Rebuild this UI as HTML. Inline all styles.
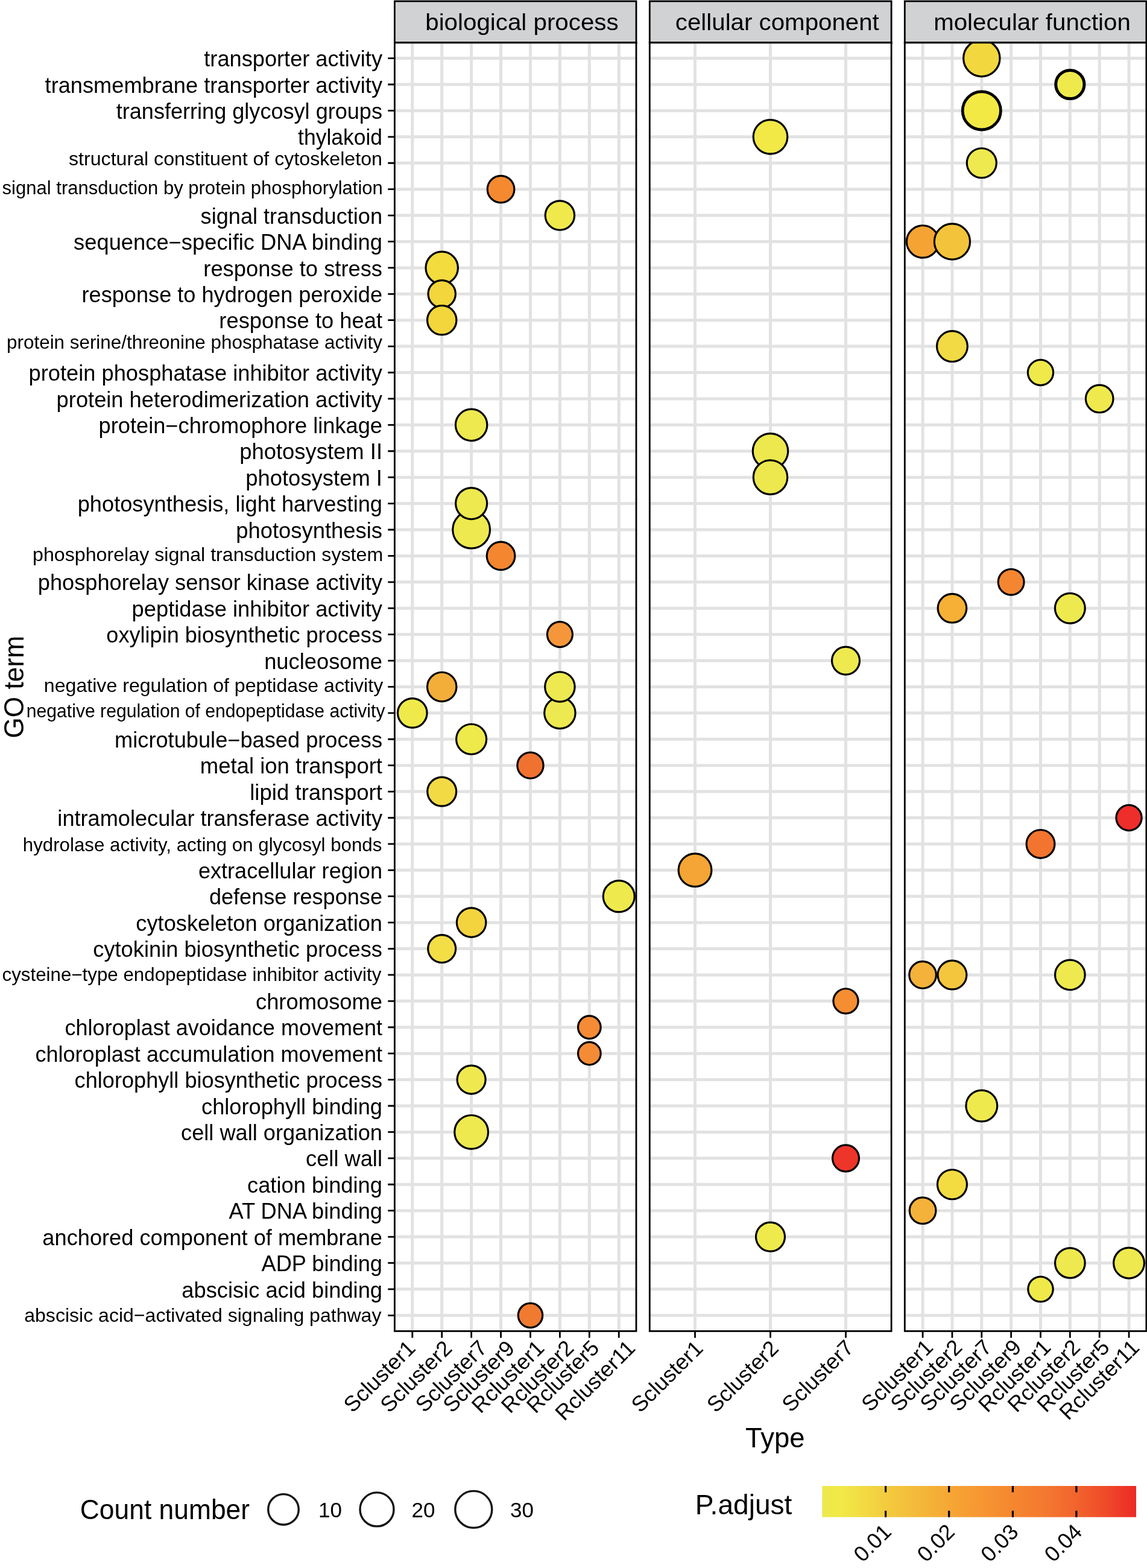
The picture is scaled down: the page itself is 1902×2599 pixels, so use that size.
<!DOCTYPE html><html><head><meta charset="utf-8"><title>GO enrichment dot plot</title><style>
html,body{margin:0;padding:0;background:#fff;}body{width:1902px;height:2599px;overflow:hidden;}svg{display:block;}text{font-family:"Liberation Sans", Arial, Helvetica, sans-serif;fill:#000;}
</style></head><body>
<svg width="1902" height="2599" viewBox="0 0 1902 2599">
<rect width="1902" height="2599" fill="#fff"/>
<defs>
<clipPath id="cp0"><rect x="654.4" y="70.8" width="400.6" height="2135.6"/></clipPath>
<clipPath id="cp1"><rect x="1077.3" y="70.8" width="400.8" height="2135.6"/></clipPath>
<clipPath id="cp2"><rect x="1500.3" y="70.8" width="400.6" height="2135.6"/></clipPath>
<linearGradient id="grad" x1="0" x2="1" y1="0" y2="0">
<stop offset="0.000" stop-color="#ede84e"/>
<stop offset="0.060" stop-color="#f1ea47"/>
<stop offset="0.200" stop-color="#f3cc3e"/>
<stop offset="0.300" stop-color="#f4ba39"/>
<stop offset="0.400" stop-color="#f5a834"/>
<stop offset="0.500" stop-color="#f79732"/>
<stop offset="0.600" stop-color="#f5882f"/>
<stop offset="0.700" stop-color="#f47a30"/>
<stop offset="0.800" stop-color="#f2662d"/>
<stop offset="0.900" stop-color="#ef4b29"/>
<stop offset="1.000" stop-color="#ec2a26"/>
</linearGradient></defs>
<rect x="654.4" y="2.0" width="400.6" height="68.8" fill="#d1d2d4" stroke="#000" stroke-width="2.8"/>
<rect x="1077.3" y="2.0" width="400.8" height="68.8" fill="#d1d2d4" stroke="#000" stroke-width="2.8"/>
<rect x="1500.3" y="2.0" width="400.6" height="68.8" fill="#d1d2d4" stroke="#000" stroke-width="2.8"/>
<path d="M653.0 70.95H1056.4" stroke="#000" stroke-width="3.7"/>
<path d="M1075.9 70.95H1479.5" stroke="#000" stroke-width="3.7"/>
<path d="M1498.9 70.95H1902.3" stroke="#000" stroke-width="3.7"/>
<rect x="1501.2" y="94.80" width="1.9" height="3.6" fill="#111"/>
<rect x="1501.2" y="138.21" width="1.9" height="3.6" fill="#111"/>
<rect x="1501.2" y="181.62" width="1.9" height="3.6" fill="#111"/>
<text x="705.25" y="50.0" font-size="39.6" textLength="320.37" lengthAdjust="spacingAndGlyphs">biological process</text>
<text x="1119.82" y="50.0" font-size="39.6" textLength="337.99" lengthAdjust="spacingAndGlyphs">cellular component</text>
<text x="1548.15" y="50.0" font-size="39.6" textLength="326.65" lengthAdjust="spacingAndGlyphs">molecular function</text>
<g clip-path="url(#cp0)">
<rect x="654.4" y="70.8" width="400.6" height="2135.6" fill="#fff"/>
<path d="M654.4 96.60H1055.0M654.4 140.01H1055.0M654.4 183.42H1055.0M654.4 226.83H1055.0M654.4 270.24H1055.0M654.4 313.65H1055.0M654.4 357.06H1055.0M654.4 400.47H1055.0M654.4 443.88H1055.0M654.4 487.29H1055.0M654.4 530.70H1055.0M654.4 574.11H1055.0M654.4 617.52H1055.0M654.4 660.93H1055.0M654.4 704.34H1055.0M654.4 747.75H1055.0M654.4 791.16H1055.0M654.4 834.57H1055.0M654.4 877.98H1055.0M654.4 921.39H1055.0M654.4 964.80H1055.0M654.4 1008.21H1055.0M654.4 1051.62H1055.0M654.4 1095.03H1055.0M654.4 1138.44H1055.0M654.4 1181.85H1055.0M654.4 1225.26H1055.0M654.4 1268.67H1055.0M654.4 1312.08H1055.0M654.4 1355.49H1055.0M654.4 1398.90H1055.0M654.4 1442.31H1055.0M654.4 1485.72H1055.0M654.4 1529.13H1055.0M654.4 1572.54H1055.0M654.4 1615.95H1055.0M654.4 1659.36H1055.0M654.4 1702.77H1055.0M654.4 1746.18H1055.0M654.4 1789.59H1055.0M654.4 1833.00H1055.0M654.4 1876.41H1055.0M654.4 1919.82H1055.0M654.4 1963.23H1055.0M654.4 2006.64H1055.0M654.4 2050.05H1055.0M654.4 2093.46H1055.0M654.4 2136.87H1055.0M654.4 2180.28H1055.0M683.80 70.8V2206.4M732.72 70.8V2206.4M781.64 70.8V2206.4M830.56 70.8V2206.4M879.48 70.8V2206.4M928.40 70.8V2206.4M977.32 70.8V2206.4M1026.24 70.8V2206.4" stroke="#e2e2e2" stroke-width="5.0" fill="none"/>
<circle cx="879.48" cy="2180.28" r="20.20" fill="#f07a30" stroke="#000" stroke-width="3.2"/>
<circle cx="781.64" cy="1876.41" r="27.90" fill="#eee94f" stroke="#000" stroke-width="3.2"/>
<circle cx="781.64" cy="1789.59" r="23.50" fill="#efe94f" stroke="#000" stroke-width="3.2"/>
<circle cx="977.32" cy="1746.18" r="18.80" fill="#f58b34" stroke="#000" stroke-width="3.2"/>
<circle cx="977.32" cy="1702.77" r="18.80" fill="#f58b34" stroke="#000" stroke-width="3.2"/>
<circle cx="732.72" cy="1572.54" r="23.00" fill="#f3de45" stroke="#000" stroke-width="3.2"/>
<circle cx="781.64" cy="1529.13" r="24.20" fill="#f3d43f" stroke="#000" stroke-width="3.2"/>
<circle cx="1026.24" cy="1485.72" r="26.00" fill="#eeea4d" stroke="#000" stroke-width="3.2"/>
<circle cx="732.72" cy="1312.08" r="24.00" fill="#f2da44" stroke="#000" stroke-width="3.2"/>
<circle cx="879.48" cy="1268.67" r="21.60" fill="#f07230" stroke="#000" stroke-width="3.2"/>
<circle cx="781.64" cy="1225.26" r="25.00" fill="#eeea4c" stroke="#000" stroke-width="3.2"/>
<circle cx="683.80" cy="1181.85" r="24.30" fill="#efea4a" stroke="#000" stroke-width="3.2"/>
<circle cx="928.40" cy="1181.85" r="25.70" fill="#ede950" stroke="#000" stroke-width="3.2"/>
<circle cx="732.72" cy="1138.44" r="24.20" fill="#f3ae3a" stroke="#000" stroke-width="3.2"/>
<circle cx="928.40" cy="1138.44" r="24.70" fill="#ede950" stroke="#000" stroke-width="3.2"/>
<circle cx="928.40" cy="1051.62" r="21.00" fill="#f6963a" stroke="#000" stroke-width="3.2"/>
<circle cx="830.56" cy="921.39" r="23.30" fill="#f58630" stroke="#000" stroke-width="3.2"/>
<circle cx="781.64" cy="877.98" r="30.90" fill="#ede94f" stroke="#000" stroke-width="3.2"/>
<circle cx="781.64" cy="834.57" r="26.00" fill="#ede94f" stroke="#000" stroke-width="3.2"/>
<circle cx="781.64" cy="704.34" r="26.20" fill="#ede94f" stroke="#000" stroke-width="3.2"/>
<circle cx="732.72" cy="443.88" r="26.70" fill="#f2dc3e" stroke="#000" stroke-width="3.2"/>
<circle cx="732.72" cy="487.29" r="22.70" fill="#f2d63c" stroke="#000" stroke-width="3.2"/>
<circle cx="732.72" cy="530.70" r="24.20" fill="#f2d63c" stroke="#000" stroke-width="3.2"/>
<circle cx="928.40" cy="357.06" r="24.20" fill="#efe94c" stroke="#000" stroke-width="3.2"/>
<circle cx="830.56" cy="313.65" r="22.30" fill="#f5892f" stroke="#000" stroke-width="3.2"/>
</g>
<rect x="654.4" y="70.8" width="400.6" height="2135.6" fill="none" stroke="#000" stroke-width="2.8"/>
<path d="M683.80 2206.4V2217.5M732.72 2206.4V2217.5M781.64 2206.4V2217.5M830.56 2206.4V2217.5M879.48 2206.4V2217.5M928.40 2206.4V2217.5M977.32 2206.4V2217.5M1026.24 2206.4V2217.5" stroke="#000" stroke-width="2.8"/>
<g clip-path="url(#cp1)">
<rect x="1077.3" y="70.8" width="400.8" height="2135.6" fill="#fff"/>
<path d="M1077.3 96.60H1478.1M1077.3 140.01H1478.1M1077.3 183.42H1478.1M1077.3 226.83H1478.1M1077.3 270.24H1478.1M1077.3 313.65H1478.1M1077.3 357.06H1478.1M1077.3 400.47H1478.1M1077.3 443.88H1478.1M1077.3 487.29H1478.1M1077.3 530.70H1478.1M1077.3 574.11H1478.1M1077.3 617.52H1478.1M1077.3 660.93H1478.1M1077.3 704.34H1478.1M1077.3 747.75H1478.1M1077.3 791.16H1478.1M1077.3 834.57H1478.1M1077.3 877.98H1478.1M1077.3 921.39H1478.1M1077.3 964.80H1478.1M1077.3 1008.21H1478.1M1077.3 1051.62H1478.1M1077.3 1095.03H1478.1M1077.3 1138.44H1478.1M1077.3 1181.85H1478.1M1077.3 1225.26H1478.1M1077.3 1268.67H1478.1M1077.3 1312.08H1478.1M1077.3 1355.49H1478.1M1077.3 1398.90H1478.1M1077.3 1442.31H1478.1M1077.3 1485.72H1478.1M1077.3 1529.13H1478.1M1077.3 1572.54H1478.1M1077.3 1615.95H1478.1M1077.3 1659.36H1478.1M1077.3 1702.77H1478.1M1077.3 1746.18H1478.1M1077.3 1789.59H1478.1M1077.3 1833.00H1478.1M1077.3 1876.41H1478.1M1077.3 1919.82H1478.1M1077.3 1963.23H1478.1M1077.3 2006.64H1478.1M1077.3 2050.05H1478.1M1077.3 2093.46H1478.1M1077.3 2136.87H1478.1M1077.3 2180.28H1478.1M1152.50 70.8V2206.4M1277.50 70.8V2206.4M1402.50 70.8V2206.4" stroke="#e2e2e2" stroke-width="5.0" fill="none"/>
<circle cx="1277.50" cy="2050.05" r="24.00" fill="#eeea4c" stroke="#000" stroke-width="3.2"/>
<circle cx="1402.50" cy="1919.82" r="22.00" fill="#ee3529" stroke="#000" stroke-width="3.2"/>
<circle cx="1402.50" cy="1659.36" r="20.60" fill="#f58d33" stroke="#000" stroke-width="3.2"/>
<circle cx="1152.50" cy="1442.31" r="27.40" fill="#f5a535" stroke="#000" stroke-width="3.2"/>
<circle cx="1402.50" cy="1095.03" r="23.00" fill="#eee94f" stroke="#000" stroke-width="3.2"/>
<circle cx="1277.50" cy="747.75" r="29.20" fill="#ede84e" stroke="#000" stroke-width="3.2"/>
<circle cx="1277.50" cy="791.16" r="28.20" fill="#ede84e" stroke="#000" stroke-width="3.2"/>
<circle cx="1277.50" cy="226.83" r="28.30" fill="#f2e947" stroke="#000" stroke-width="3.2"/>
</g>
<rect x="1077.3" y="70.8" width="400.8" height="2135.6" fill="none" stroke="#000" stroke-width="2.8"/>
<path d="M1152.50 2206.4V2217.5M1277.50 2206.4V2217.5M1402.50 2206.4V2217.5" stroke="#000" stroke-width="2.8"/>
<g clip-path="url(#cp2)">
<rect x="1500.3" y="70.8" width="400.6" height="2135.6" fill="#fff"/>
<path d="M1500.3 96.60H1900.9M1500.3 140.01H1900.9M1500.3 183.42H1900.9M1500.3 226.83H1900.9M1500.3 270.24H1900.9M1500.3 313.65H1900.9M1500.3 357.06H1900.9M1500.3 400.47H1900.9M1500.3 443.88H1900.9M1500.3 487.29H1900.9M1500.3 530.70H1900.9M1500.3 574.11H1900.9M1500.3 617.52H1900.9M1500.3 660.93H1900.9M1500.3 704.34H1900.9M1500.3 747.75H1900.9M1500.3 791.16H1900.9M1500.3 834.57H1900.9M1500.3 877.98H1900.9M1500.3 921.39H1900.9M1500.3 964.80H1900.9M1500.3 1008.21H1900.9M1500.3 1051.62H1900.9M1500.3 1095.03H1900.9M1500.3 1138.44H1900.9M1500.3 1181.85H1900.9M1500.3 1225.26H1900.9M1500.3 1268.67H1900.9M1500.3 1312.08H1900.9M1500.3 1355.49H1900.9M1500.3 1398.90H1900.9M1500.3 1442.31H1900.9M1500.3 1485.72H1900.9M1500.3 1529.13H1900.9M1500.3 1572.54H1900.9M1500.3 1615.95H1900.9M1500.3 1659.36H1900.9M1500.3 1702.77H1900.9M1500.3 1746.18H1900.9M1500.3 1789.59H1900.9M1500.3 1833.00H1900.9M1500.3 1876.41H1900.9M1500.3 1919.82H1900.9M1500.3 1963.23H1900.9M1500.3 2006.64H1900.9M1500.3 2050.05H1900.9M1500.3 2093.46H1900.9M1500.3 2136.87H1900.9M1500.3 2180.28H1900.9M1530.10 70.8V2206.4M1578.95 70.8V2206.4M1627.80 70.8V2206.4M1676.65 70.8V2206.4M1725.50 70.8V2206.4M1774.35 70.8V2206.4M1823.20 70.8V2206.4M1872.05 70.8V2206.4" stroke="#e2e2e2" stroke-width="5.0" fill="none"/>
<circle cx="1725.50" cy="2136.87" r="20.70" fill="#efea4a" stroke="#000" stroke-width="3.2"/>
<circle cx="1774.35" cy="2093.46" r="24.80" fill="#eee94e" stroke="#000" stroke-width="3.2"/>
<circle cx="1872.05" cy="2093.46" r="25.40" fill="#eee94e" stroke="#000" stroke-width="3.2"/>
<circle cx="1530.10" cy="2006.64" r="21.80" fill="#f4b23a" stroke="#000" stroke-width="3.2"/>
<circle cx="1578.95" cy="1963.23" r="24.50" fill="#f3db42" stroke="#000" stroke-width="3.2"/>
<circle cx="1627.80" cy="1833.00" r="25.90" fill="#eeea4e" stroke="#000" stroke-width="3.2"/>
<circle cx="1530.10" cy="1615.95" r="22.30" fill="#f4b23a" stroke="#000" stroke-width="3.2"/>
<circle cx="1578.95" cy="1615.95" r="23.90" fill="#f4c63d" stroke="#000" stroke-width="3.2"/>
<circle cx="1774.35" cy="1615.95" r="24.80" fill="#eee94e" stroke="#000" stroke-width="3.2"/>
<circle cx="1725.50" cy="1398.90" r="23.40" fill="#f2742f" stroke="#000" stroke-width="3.2"/>
<circle cx="1872.05" cy="1355.49" r="21.10" fill="#ee2e2a" stroke="#000" stroke-width="3.2"/>
<circle cx="1578.95" cy="1008.21" r="23.80" fill="#f5b035" stroke="#000" stroke-width="3.2"/>
<circle cx="1774.35" cy="1008.21" r="24.90" fill="#eee94e" stroke="#000" stroke-width="3.2"/>
<circle cx="1676.65" cy="964.80" r="21.40" fill="#f58631" stroke="#000" stroke-width="3.2"/>
<circle cx="1823.20" cy="660.93" r="22.80" fill="#efe94e" stroke="#000" stroke-width="3.2"/>
<circle cx="1725.50" cy="617.52" r="21.10" fill="#efea4a" stroke="#000" stroke-width="3.2"/>
<circle cx="1578.95" cy="574.11" r="25.40" fill="#f2da44" stroke="#000" stroke-width="3.2"/>
<circle cx="1530.10" cy="400.47" r="26.70" fill="#f5a433" stroke="#000" stroke-width="3.2"/>
<circle cx="1578.95" cy="400.47" r="29.60" fill="#f3c33b" stroke="#000" stroke-width="3.2"/>
<circle cx="1627.80" cy="270.24" r="24.50" fill="#eee94e" stroke="#000" stroke-width="3.2"/>
<circle cx="1627.80" cy="183.42" r="31.60" fill="#f3e944" stroke="#000" stroke-width="4.8"/>
<circle cx="1774.35" cy="140.01" r="23.60" fill="#efea4c" stroke="#000" stroke-width="5.0"/>
<circle cx="1627.80" cy="96.60" r="30.20" fill="#f2d83e" stroke="#000" stroke-width="3.2"/>
</g>
<rect x="1500.3" y="70.8" width="400.6" height="2135.6" fill="none" stroke="#000" stroke-width="2.8"/>
<path d="M1530.10 2206.4V2217.5M1578.95 2206.4V2217.5M1627.80 2206.4V2217.5M1676.65 2206.4V2217.5M1725.50 2206.4V2217.5M1774.35 2206.4V2217.5M1823.20 2206.4V2217.5M1872.05 2206.4V2217.5" stroke="#000" stroke-width="2.8"/>
<path d="M643.3 96.60H654.4M643.3 140.01H654.4M643.3 183.42H654.4M643.3 226.83H654.4M643.3 270.24H654.4M643.3 313.65H654.4M643.3 357.06H654.4M643.3 400.47H654.4M643.3 443.88H654.4M643.3 487.29H654.4M643.3 530.70H654.4M643.3 574.11H654.4M643.3 617.52H654.4M643.3 660.93H654.4M643.3 704.34H654.4M643.3 747.75H654.4M643.3 791.16H654.4M643.3 834.57H654.4M643.3 877.98H654.4M643.3 921.39H654.4M643.3 964.80H654.4M643.3 1008.21H654.4M643.3 1051.62H654.4M643.3 1095.03H654.4M643.3 1138.44H654.4M643.3 1181.85H654.4M643.3 1225.26H654.4M643.3 1268.67H654.4M643.3 1312.08H654.4M643.3 1355.49H654.4M643.3 1398.90H654.4M643.3 1442.31H654.4M643.3 1485.72H654.4M643.3 1529.13H654.4M643.3 1572.54H654.4M643.3 1615.95H654.4M643.3 1659.36H654.4M643.3 1702.77H654.4M643.3 1746.18H654.4M643.3 1789.59H654.4M643.3 1833.00H654.4M643.3 1876.41H654.4M643.3 1919.82H654.4M643.3 1963.23H654.4M643.3 2006.64H654.4M643.3 2050.05H654.4M643.3 2093.46H654.4M643.3 2136.87H654.4M643.3 2180.28H654.4" stroke="#000" stroke-width="2.8"/>
<text x="634.0" y="110.2" font-size="36" text-anchor="end" textLength="295.70" lengthAdjust="spacingAndGlyphs">transporter activity</text>
<text x="634.0" y="153.6" font-size="36" text-anchor="end" textLength="559.40" lengthAdjust="spacingAndGlyphs">transmembrane transporter activity</text>
<text x="634.0" y="197.0" font-size="36" text-anchor="end" textLength="441.30" lengthAdjust="spacingAndGlyphs">transferring glycosyl groups</text>
<text x="634.0" y="240.4" font-size="36" text-anchor="end" textLength="139.89" lengthAdjust="spacingAndGlyphs">thylakoid</text>
<text x="113.98" y="273.7" font-size="31.5" textLength="519.96" lengthAdjust="spacingAndGlyphs">structural constituent of cytoskeleton</text>
<text x="3.60" y="321.8" font-size="31.0" textLength="631.22" lengthAdjust="spacingAndGlyphs">signal transduction by protein phosphorylation</text>
<text x="634.0" y="370.7" font-size="36" text-anchor="end" textLength="301.40" lengthAdjust="spacingAndGlyphs">signal transduction</text>
<text x="634.0" y="414.1" font-size="36" text-anchor="end" textLength="511.91" lengthAdjust="spacingAndGlyphs">sequence−specific DNA binding</text>
<text x="634.0" y="457.5" font-size="36" text-anchor="end" textLength="296.67" lengthAdjust="spacingAndGlyphs">response to stress</text>
<text x="634.0" y="500.9" font-size="36" text-anchor="end" textLength="498.46" lengthAdjust="spacingAndGlyphs">response to hydrogen peroxide</text>
<text x="634.0" y="544.3" font-size="36" text-anchor="end" textLength="270.67" lengthAdjust="spacingAndGlyphs">response to heat</text>
<text x="11.11" y="577.7" font-size="31.4" textLength="622.79" lengthAdjust="spacingAndGlyphs">protein serine/threonine phosphatase activity</text>
<text x="634.0" y="631.1" font-size="36" text-anchor="end" textLength="586.37" lengthAdjust="spacingAndGlyphs">protein phosphatase inhibitor activity</text>
<text x="634.0" y="674.5" font-size="36" text-anchor="end" textLength="540.37" lengthAdjust="spacingAndGlyphs">protein heterodimerization activity</text>
<text x="634.0" y="717.9" font-size="36" text-anchor="end" textLength="470.47" lengthAdjust="spacingAndGlyphs">protein−chromophore linkage</text>
<text x="634.0" y="761.4" font-size="36" text-anchor="end" textLength="236.78" lengthAdjust="spacingAndGlyphs">photosystem II</text>
<text x="634.0" y="804.8" font-size="36" text-anchor="end" textLength="226.78" lengthAdjust="spacingAndGlyphs">photosystem I</text>
<text x="634.0" y="848.2" font-size="36" text-anchor="end" textLength="505.26" lengthAdjust="spacingAndGlyphs">photosynthesis, light harvesting</text>
<text x="634.0" y="891.6" font-size="36" text-anchor="end" textLength="242.77" lengthAdjust="spacingAndGlyphs">photosynthesis</text>
<text x="54.07" y="929.8" font-size="31.8" textLength="581.20" lengthAdjust="spacingAndGlyphs">phosphorelay signal transduction system</text>
<text x="634.0" y="978.4" font-size="36" text-anchor="end" textLength="571.16" lengthAdjust="spacingAndGlyphs">phosphorelay sensor kinase activity</text>
<text x="634.0" y="1021.8" font-size="36" text-anchor="end" textLength="415.37" lengthAdjust="spacingAndGlyphs">peptidase inhibitor activity</text>
<text x="634.0" y="1065.2" font-size="36" text-anchor="end" textLength="457.70" lengthAdjust="spacingAndGlyphs">oxylipin biosynthetic process</text>
<text x="634.0" y="1108.6" font-size="36" text-anchor="end" textLength="195.82" lengthAdjust="spacingAndGlyphs">nucleosome</text>
<text x="72.88" y="1146.6" font-size="31.8" textLength="562.32" lengthAdjust="spacingAndGlyphs">negative regulation of peptidase activity</text>
<text x="43.82" y="1189.0" font-size="30.6" textLength="594.68" lengthAdjust="spacingAndGlyphs">negative regulation of endopeptidase activity</text>
<text x="634.0" y="1238.9" font-size="36" text-anchor="end" textLength="443.91" lengthAdjust="spacingAndGlyphs">microtubule−based process</text>
<text x="634.0" y="1282.3" font-size="36" text-anchor="end" textLength="302.13" lengthAdjust="spacingAndGlyphs">metal ion transport</text>
<text x="634.0" y="1325.7" font-size="36" text-anchor="end" textLength="219.84" lengthAdjust="spacingAndGlyphs">lipid transport</text>
<text x="634.0" y="1369.1" font-size="36" text-anchor="end" textLength="538.61" lengthAdjust="spacingAndGlyphs">intramolecular transferase activity</text>
<text x="37.77" y="1411.2" font-size="31.5" textLength="595.61" lengthAdjust="spacingAndGlyphs">hydrolase activity, acting on glycosyl bonds</text>
<text x="634.0" y="1455.9" font-size="36" text-anchor="end" textLength="305.10" lengthAdjust="spacingAndGlyphs">extracellular region</text>
<text x="634.0" y="1499.3" font-size="36" text-anchor="end" textLength="287.10" lengthAdjust="spacingAndGlyphs">defense response</text>
<text x="634.0" y="1542.7" font-size="36" text-anchor="end" textLength="408.61" lengthAdjust="spacingAndGlyphs">cytoskeleton organization</text>
<text x="634.0" y="1586.1" font-size="36" text-anchor="end" textLength="479.71" lengthAdjust="spacingAndGlyphs">cytokinin biosynthetic process</text>
<text x="3.54" y="1625.7" font-size="31.0" textLength="628.86" lengthAdjust="spacingAndGlyphs">cysteine−type endopeptidase inhibitor activity</text>
<text x="634.0" y="1673.0" font-size="36" text-anchor="end" textLength="210.01" lengthAdjust="spacingAndGlyphs">chromosome</text>
<text x="634.0" y="1716.4" font-size="36" text-anchor="end" textLength="526.40" lengthAdjust="spacingAndGlyphs">chloroplast avoidance movement</text>
<text x="634.0" y="1759.8" font-size="36" text-anchor="end" textLength="575.60" lengthAdjust="spacingAndGlyphs">chloroplast accumulation movement</text>
<text x="634.0" y="1803.2" font-size="36" text-anchor="end" textLength="510.41" lengthAdjust="spacingAndGlyphs">chlorophyll biosynthetic process</text>
<text x="634.0" y="1846.6" font-size="36" text-anchor="end" textLength="299.91" lengthAdjust="spacingAndGlyphs">chlorophyll binding</text>
<text x="634.0" y="1890.0" font-size="36" text-anchor="end" textLength="333.91" lengthAdjust="spacingAndGlyphs">cell wall organization</text>
<text x="634.0" y="1933.4" font-size="36" text-anchor="end" textLength="126.91" lengthAdjust="spacingAndGlyphs">cell wall</text>
<text x="634.0" y="1976.8" font-size="36" text-anchor="end" textLength="224.01" lengthAdjust="spacingAndGlyphs">cation binding</text>
<text x="634.0" y="2020.2" font-size="36" text-anchor="end" textLength="254.50" lengthAdjust="spacingAndGlyphs">AT DNA binding</text>
<text x="634.0" y="2063.6" font-size="36" text-anchor="end" textLength="563.61" lengthAdjust="spacingAndGlyphs">anchored component of membrane</text>
<text x="634.0" y="2107.1" font-size="36" text-anchor="end" textLength="200.50" lengthAdjust="spacingAndGlyphs">ADP binding</text>
<text x="634.0" y="2150.5" font-size="36" text-anchor="end" textLength="332.71" lengthAdjust="spacingAndGlyphs">abscisic acid binding</text>
<text x="40.24" y="2190.7" font-size="31.8" textLength="592.22" lengthAdjust="spacingAndGlyphs">abscisic acid−activated signaling pathway</text>
<text transform="translate(690.8 2236.9) rotate(-45)" font-size="36" text-anchor="end">Scluster1</text>
<text transform="translate(751.6 2237.1) rotate(-45)" font-size="36" text-anchor="end">Scluster2</text>
<text transform="translate(809.8 2236.6) rotate(-45)" font-size="36" text-anchor="end">Scluster7</text>
<text transform="translate(855.5 2237.2) rotate(-45)" font-size="36" text-anchor="end">Scluster9</text>
<text transform="translate(904.6 2236.7) rotate(-45)" font-size="36" text-anchor="end">Rcluster1</text>
<text transform="translate(953.6 2236.7) rotate(-45)" font-size="36" text-anchor="end">Rcluster2</text>
<text transform="translate(995.6 2236.7) rotate(-45)" font-size="36" text-anchor="end">Rcluster5</text>
<text transform="translate(1055.4 2236.6) rotate(-45)" font-size="36" text-anchor="end">Rcluster11</text>
<text transform="translate(1167.9 2237.0) rotate(-45)" font-size="36" text-anchor="end">Scluster1</text>
<text transform="translate(1293.2 2237.0) rotate(-45)" font-size="36" text-anchor="end">Scluster2</text>
<text transform="translate(1417.6 2236.1) rotate(-45)" font-size="36" text-anchor="end">Scluster7</text>
<text transform="translate(1549.3 2235.3) rotate(-45)" font-size="36" text-anchor="end">Scluster1</text>
<text transform="translate(1597.7 2235.3) rotate(-45)" font-size="36" text-anchor="end">Scluster2</text>
<text transform="translate(1646.7 2235.3) rotate(-45)" font-size="36" text-anchor="end">Scluster7</text>
<text transform="translate(1695.7 2235.3) rotate(-45)" font-size="36" text-anchor="end">Scluster9</text>
<text transform="translate(1744.7 2235.3) rotate(-45)" font-size="36" text-anchor="end">Rcluster1</text>
<text transform="translate(1793.3 2235.3) rotate(-45)" font-size="36" text-anchor="end">Rcluster2</text>
<text transform="translate(1841.9 2235.3) rotate(-45)" font-size="36" text-anchor="end">Rcluster5</text>
<text transform="translate(1891.4 2235.8) rotate(-45)" font-size="36" text-anchor="end">Rcluster11</text>
<text transform="translate(38.6 1223.74) rotate(-90)" x="0" y="0" font-size="46.4" textLength="169.80" lengthAdjust="spacingAndGlyphs">GO term</text>
<text x="1236.02" y="2398.8" font-size="46.4" textLength="98.38" lengthAdjust="spacingAndGlyphs">Type</text>
<text x="132.81" y="2517.8" font-size="45.6" textLength="281.26" lengthAdjust="spacingAndGlyphs">Count number</text>
<circle cx="470.0" cy="2501.9" r="25.3" fill="none" stroke="#151515" stroke-width="3.4"/>
<text x="528.0" y="2514.9" font-size="35">10</text>
<circle cx="625.0" cy="2501.9" r="28.0" fill="none" stroke="#151515" stroke-width="3.4"/>
<text x="682.5" y="2514.9" font-size="35">20</text>
<circle cx="785.3" cy="2501.9" r="30.5" fill="none" stroke="#151515" stroke-width="3.4"/>
<text x="846.0" y="2514.9" font-size="35">30</text>
<text x="1152.78" y="2510.4" font-size="46.4" textLength="160.63" lengthAdjust="spacingAndGlyphs">P.adjust</text>
<rect x="1363.3" y="2463.0" width="520.7" height="51.7" fill="url(#grad)"/>
<path d="M1468.6 2463V2473.6M1468.6 2504.1V2514.7M1573.7 2463V2473.6M1573.7 2504.1V2514.7M1679.4 2463V2473.6M1679.4 2504.1V2514.7M1784.9 2463V2473.6M1784.9 2504.1V2514.7" stroke="#000" stroke-width="3.2"/>
<text transform="translate(1480.1 2541.4) rotate(-45)" font-size="36" text-anchor="end">0.01</text>
<text transform="translate(1585.2 2541.4) rotate(-45)" font-size="36" text-anchor="end">0.02</text>
<text transform="translate(1690.9 2541.4) rotate(-45)" font-size="36" text-anchor="end">0.03</text>
<text transform="translate(1796.4 2541.4) rotate(-45)" font-size="36" text-anchor="end">0.04</text>
</svg></body></html>
